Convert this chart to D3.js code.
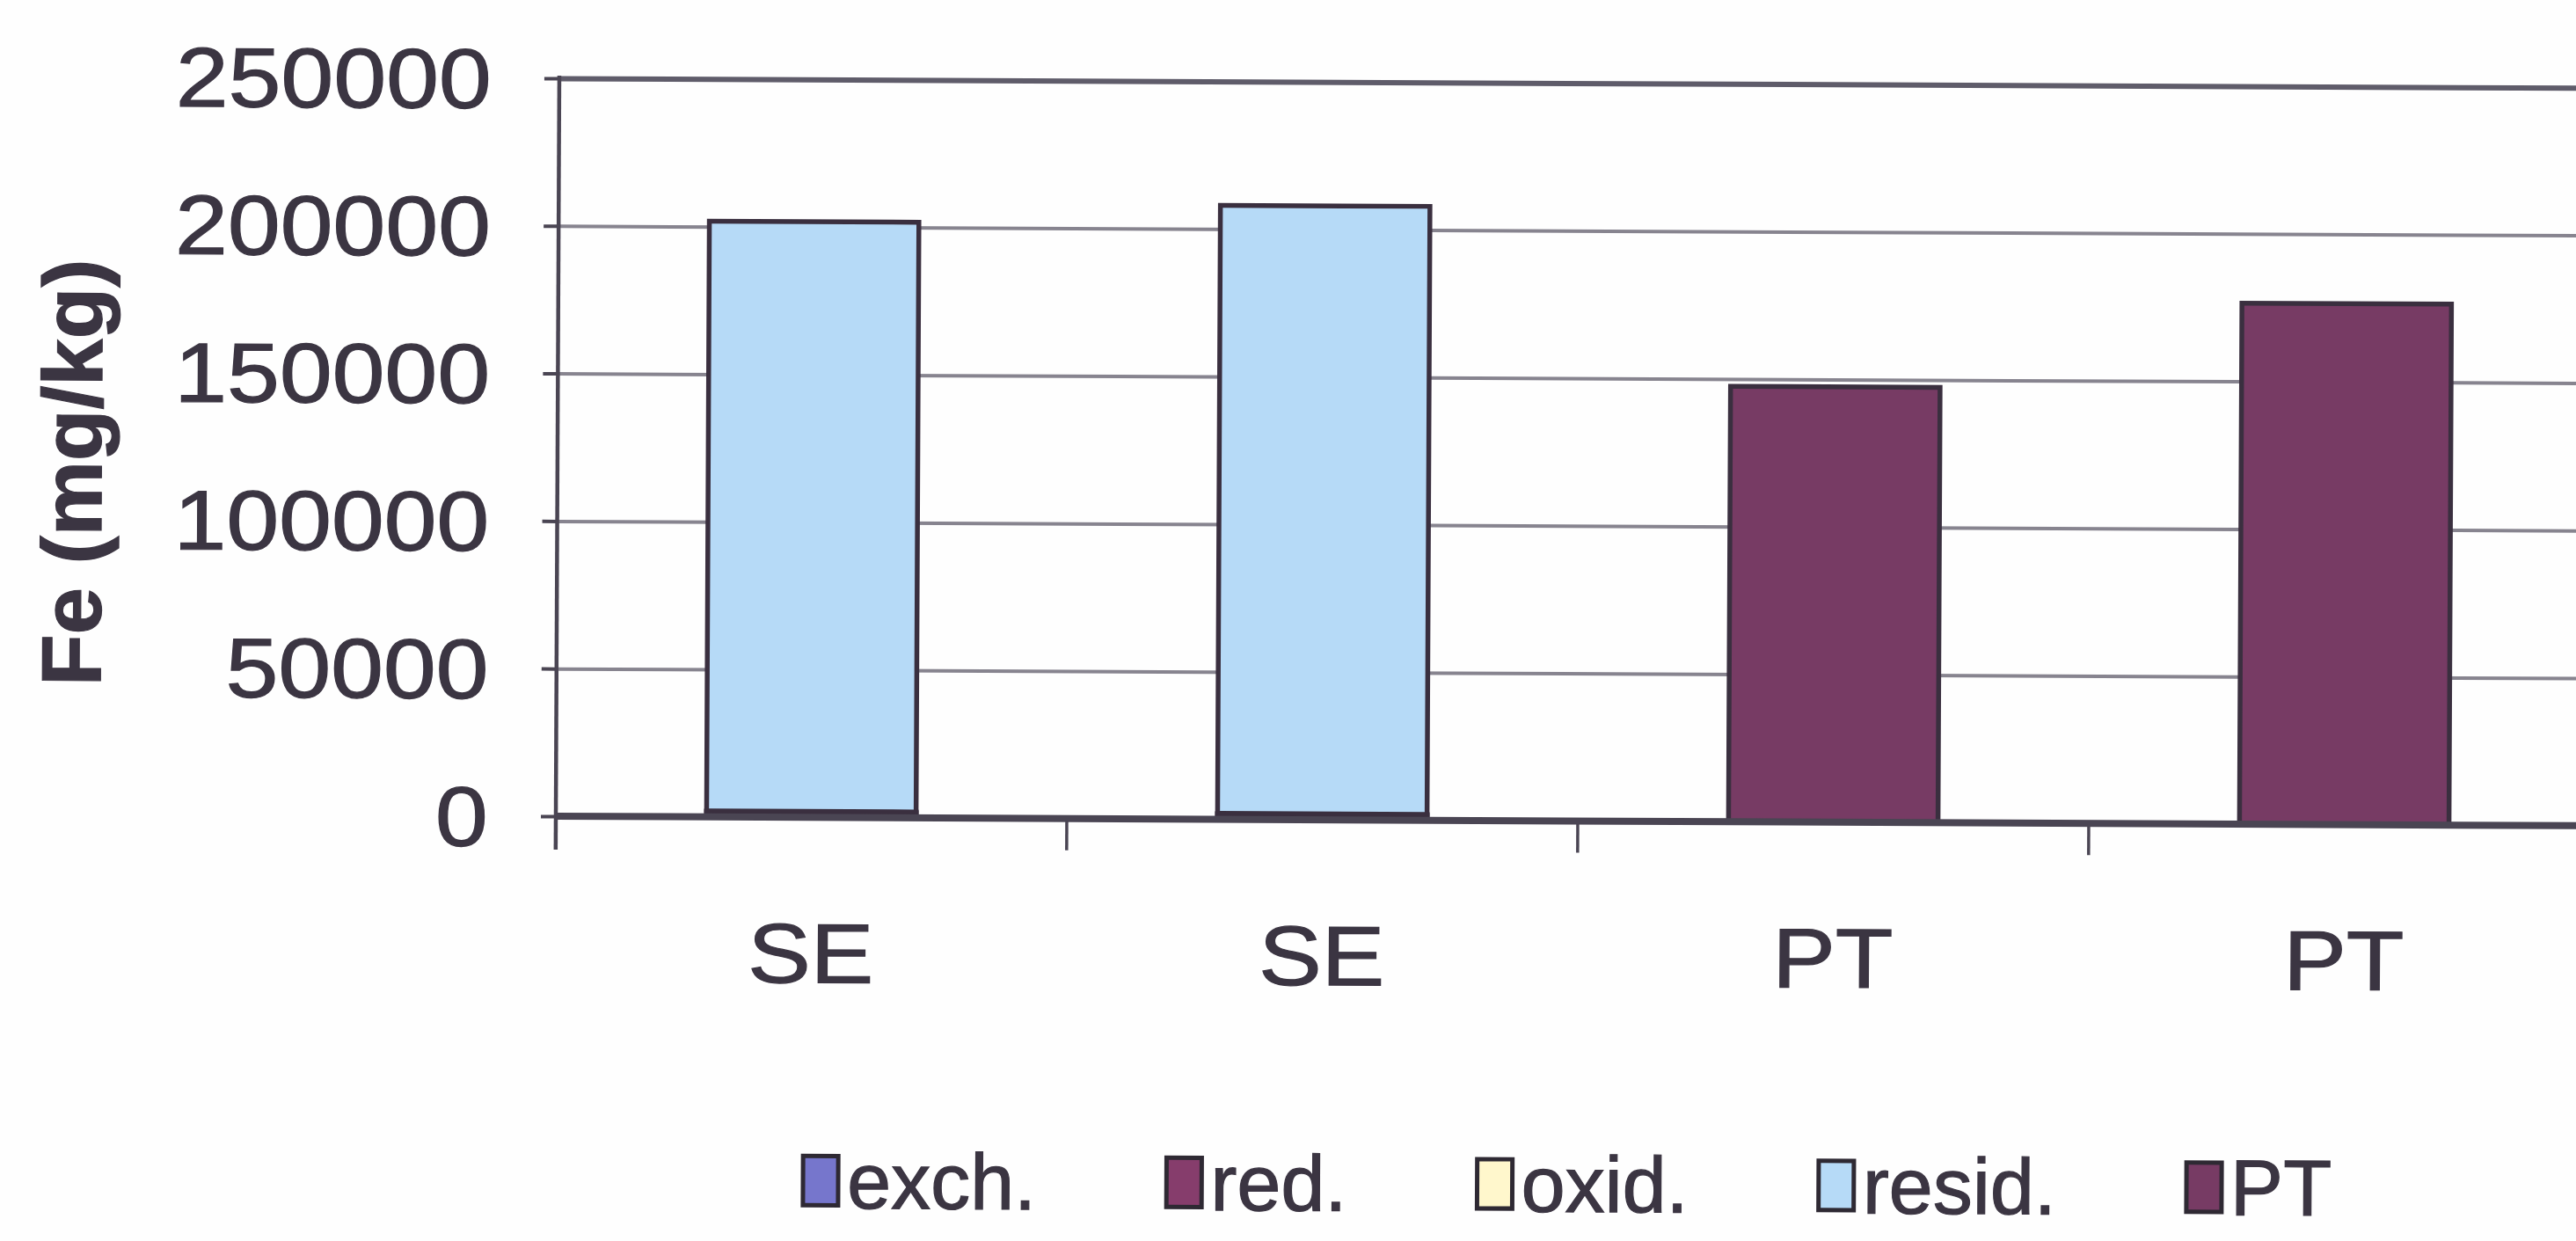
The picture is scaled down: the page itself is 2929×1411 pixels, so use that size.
<!DOCTYPE html>
<html>
<head>
<meta charset="utf-8">
<script src="https://cdn.jsdelivr.net/npm/d3@7"></script>
<style>
  html, body { margin: 0; padding: 0; background: #fefefe; }
  svg { display: block; }
  text { font-family: "Liberation Sans", Arial, sans-serif; fill: #3b3542; stroke: #3b3542; stroke-width: 1.2px; }
</style>
</head>
<body>
<svg id="chart" width="2929" height="1411"></svg>
<script>
// Sample labels along the x axis
const categories = ["SE", "SE", "PT", "PT"];

// Fe fractions (mg/kg) per sample, stacked in this order
const seriesNames = ["exch.", "red.", "oxid.", "resid.", "PT"];
const exch  = [200, 200, 0, 0];
const red   = [1500, 1500, 0, 0];
const oxid  = [300, 300, 0, 0];
const resid = [199800, 206000, 0, 0];
const pt    = [0, 0, 147500, 176500];

// Value axis
const yTicks = [0, 50000, 100000, 150000, 200000, 250000];
const yMax = 250000;

const seriesColors = {
  "exch.":  "#7676cc",
  "red.":   "#863d6c",
  "oxid.":  "#fff7cc",
  "resid.": "#b6daf7",
  "PT":     "#773b64"
};

const svg = d3.select("#chart");
const W = 2929, H = 1411;
svg.append("rect").attr("width", W).attr("height", H).attr("fill", "#fefefe");

const plot = { left: 632, top: 89, bottom: 928, right: 2956 };
const stretch = 1.12;   // tick type is set slightly wide
const ink = "#4a4553";

// the whole sheet sits a little askew
const root = svg.append("g")
  .attr("transform", `rotate(0.27, ${plot.left}, ${plot.bottom})`);

const x = d3.scaleBand()
  .domain(d3.range(categories.length))
  .range([plot.left, plot.right])
  .paddingInner(0.59)
  .paddingOuter(0.295);

const y = d3.scaleLinear().domain([0, yMax]).range([plot.bottom, plot.top]);

// gridlines
const grid = root.append("g")
  .attr("transform", `translate(${plot.left},0)`)
  .call(d3.axisLeft(y).tickValues(yTicks.filter(d => d > 0))
    .tickSize(-(plot.right - plot.left)).tickFormat(""));
grid.select(".domain").remove();
grid.selectAll(".tick line")
  .attr("stroke", d => d === yMax ? "#5f5c6a" : "#87848f")
  .attr("stroke-width", d => d === yMax ? 6 : 4);

// stacked columns
const table = categories.map((c, i) => ({
  i,
  "exch.": exch[i], "red.": red[i], "oxid.": oxid[i], "resid.": resid[i], "PT": pt[i]
}));
const stacked = d3.stack().keys(seriesNames)(table);

root.append("g").selectAll("g")
  .data(stacked)
  .join("g")
    .attr("fill", s => seriesColors[s.key])
  .selectAll("rect")
  .data(s => s.filter(d => d[1] - d[0] > 0))
  .join("rect")
    .attr("x", d => x(d.data.i))
    .attr("width", x.bandwidth())
    .attr("y", d => y(d[1]))
    .attr("height", d => y(d[0]) - y(d[1]))
    .attr("stroke", "#3a2f3f")
    .attr("stroke-width", 5.5);

// value axis
const yAxis = root.append("g")
  .attr("transform", `translate(${plot.left},0)`)
  .call(d3.axisLeft(y).tickValues(yTicks).tickSize(17).tickPadding(52)
    .tickFormat(d3.format("d")));
yAxis.select(".domain").remove();
yAxis.selectAll(".tick line").attr("stroke", ink).attr("stroke-width", 4);
yAxis.selectAll(".tick text")
  .attr("font-size", 96)
  .attr("x", -(17 + 52))
  .attr("transform", `scale(${stretch},1)`)
  .attr("dy", "0.35em");

// vertical axis line, running on as the first category tick
root.append("line")
  .attr("x1", plot.left).attr("x2", plot.left)
  .attr("y1", y(yMax) - 3).attr("y2", plot.bottom + 38)
  .attr("stroke", ink).attr("stroke-width", 4.5);

// category axis
const xAxis = root.append("g")
  .attr("transform", `translate(0,${plot.bottom})`)
  .call(d3.axisBottom(x).tickSize(0).tickPadding(188)
    .tickFormat(i => categories[i]));
xAxis.select(".domain").remove();
xAxis.selectAll(".tick text")
  .attr("font-size", 96)
  .attr("dy", 0)
  .attr("transform", `scale(${stretch},1)`)
  .attr("x", 0);

// category boundary ticks
const bounds = d3.range(1, categories.length + 1).map(k => x.range()[0] + k * x.step());
root.append("g").selectAll("line")
  .data(bounds)
  .join("line")
    .attr("x1", d => d).attr("x2", d => d)
    .attr("y1", plot.bottom).attr("y2", plot.bottom + 36)
    .attr("stroke", ink).attr("stroke-width", 3.5);

// baseline
root.append("line")
  .attr("x1", plot.left).attr("x2", plot.right)
  .attr("y1", y(0)).attr("y2", y(0))
  .attr("stroke", ink).attr("stroke-width", 8);

// axis title
root.append("text")
  .attr("transform", `translate(80,540) rotate(-90)`)
  .attr("text-anchor", "middle")
  .attr("dy", "0.35em")
  .attr("font-size", 96)
  .attr("font-weight", "bold")
  .text("Fe (mg/kg)");

// legend, spread evenly across its row
const legend = root.append("g");
const swW = 40, swH = 56, swGap = 10, legY = 1341;
const legLeft = 915, legRight = 2653;
const items = seriesNames.map(name => {
  const g = legend.append("g");
  g.append("rect")
    .attr("x", 0).attr("y", -swH / 2)
    .attr("width", swW).attr("height", swH)
    .attr("fill", seriesColors[name])
    .attr("stroke", "#2e2933").attr("stroke-width", 5);
  const t = g.append("text")
    .attr("font-size", 90)
    .attr("dy", "0.35em")
    .attr("x", swW + swGap)
    .text(name);
  return { g, w: swW + swGap + t.node().getComputedTextLength() };
});
const itemGap = (legRight - legLeft - d3.sum(items, d => d.w)) / (items.length - 1);
let cx = legLeft;
items.forEach(it => {
  it.g.attr("transform", `translate(${cx},${legY})`);
  cx += it.w + itemGap;
});
</script>
</body>
</html>
